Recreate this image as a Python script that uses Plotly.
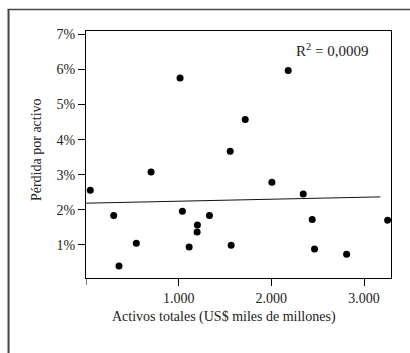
import plotly.graph_objects as go

# Data
activos = [46, 299, 356, 543, 702, 1015, 1040, 1113, 1199, 1202, 1332, 1556, 1566,
           1718, 2006, 2182, 2344, 2441, 2466, 2812, 3255]
perdida = [2.556, 1.834, 0.395, 1.043, 3.078, 5.76, 1.956, 0.937, 1.365, 1.565, 1.834,
           3.669, 0.986, 4.574, 2.784, 5.97, 2.450, 1.719, 0.880, 0.729, 1.699]

trend_x = [0, 3176]
trend_y = [2.185, 2.365]

x_tickvals = [1000, 2000, 3000]
x_ticktext = ["1.000", "2.000", "3.000"]
y_tickvals = [1, 2, 3, 4, 5, 6, 7]
y_ticktext = ["1%", "2%", "3%", "4%", "5%", "6%", "7%"]

FONT = "Liberation Serif"

fig = go.Figure()
fig.add_trace(go.Scatter(x=trend_x, y=trend_y, mode="lines",
                         line=dict(color="#111", width=1), hoverinfo="skip"))
fig.add_trace(go.Scatter(x=activos, y=perdida, mode="markers",
                         marker=dict(color="black", size=7)))

axis_common = dict(showline=True, linecolor="black", linewidth=1, mirror=True,
                   ticks="outside", ticklen=7, tickcolor="black", tickwidth=1,
                   showgrid=False, zeroline=False,
                   tickfont=dict(family=FONT, size=14, color="#222"))

fig.update_xaxes(range=[0, 3291], tickmode="array", tickvals=x_tickvals,
                 ticktext=x_ticktext, **axis_common)
fig.update_yaxes(range=[0.05, 7.1], tickmode="array", tickvals=y_tickvals,
                 ticktext=y_ticktext, **axis_common)

fig.update_layout(
    width=410, height=353,
    margin=dict(l=86, r=19, t=31, b=75),
    paper_bgcolor="white", plot_bgcolor="white",
    showlegend=False,
    font=dict(family=FONT, color="#222"),
    annotations=[
        dict(text="Activos totales (US$ miles de millones)", xref="paper", yref="paper",
             x=0.452, y=-0.157, showarrow=False, xanchor="center", yanchor="middle",
             font=dict(family=FONT, size=14, color="#222")),
        dict(text="Pérdida por activo", xref="paper", yref="paper",
             x=-0.164, y=0.522, showarrow=False, textangle=-90,
             xanchor="center", yanchor="middle",
             font=dict(family=FONT, size=14, color="#222")),
        dict(text="R<sup>2</sup> = 0,0009", xref="paper", yref="paper",
             x=0.805, y=0.923, showarrow=False, xanchor="center", yanchor="middle",
             font=dict(family=FONT, size=15, color="#222")),
    ],
    shapes=[
        # unlabeled tick at x = 0
        dict(type="line", xref="x", yref="paper", x0=0, x1=0,
             y0=0, y1=-7 / 247, line=dict(color="black", width=1)),
        # outer frame (left and top sides)
        dict(type="line", xref="paper", yref="paper", x0=-0.254, x1=-0.254,
             y0=1.087, y1=-0.4, line=dict(color="#444", width=2)),
        dict(type="line", xref="paper", yref="paper", x0=-0.257, x1=1.1,
             y0=1.087, y1=1.087, line=dict(color="#444", width=1.5)),
    ],
)

fig.write_html("out.html")
